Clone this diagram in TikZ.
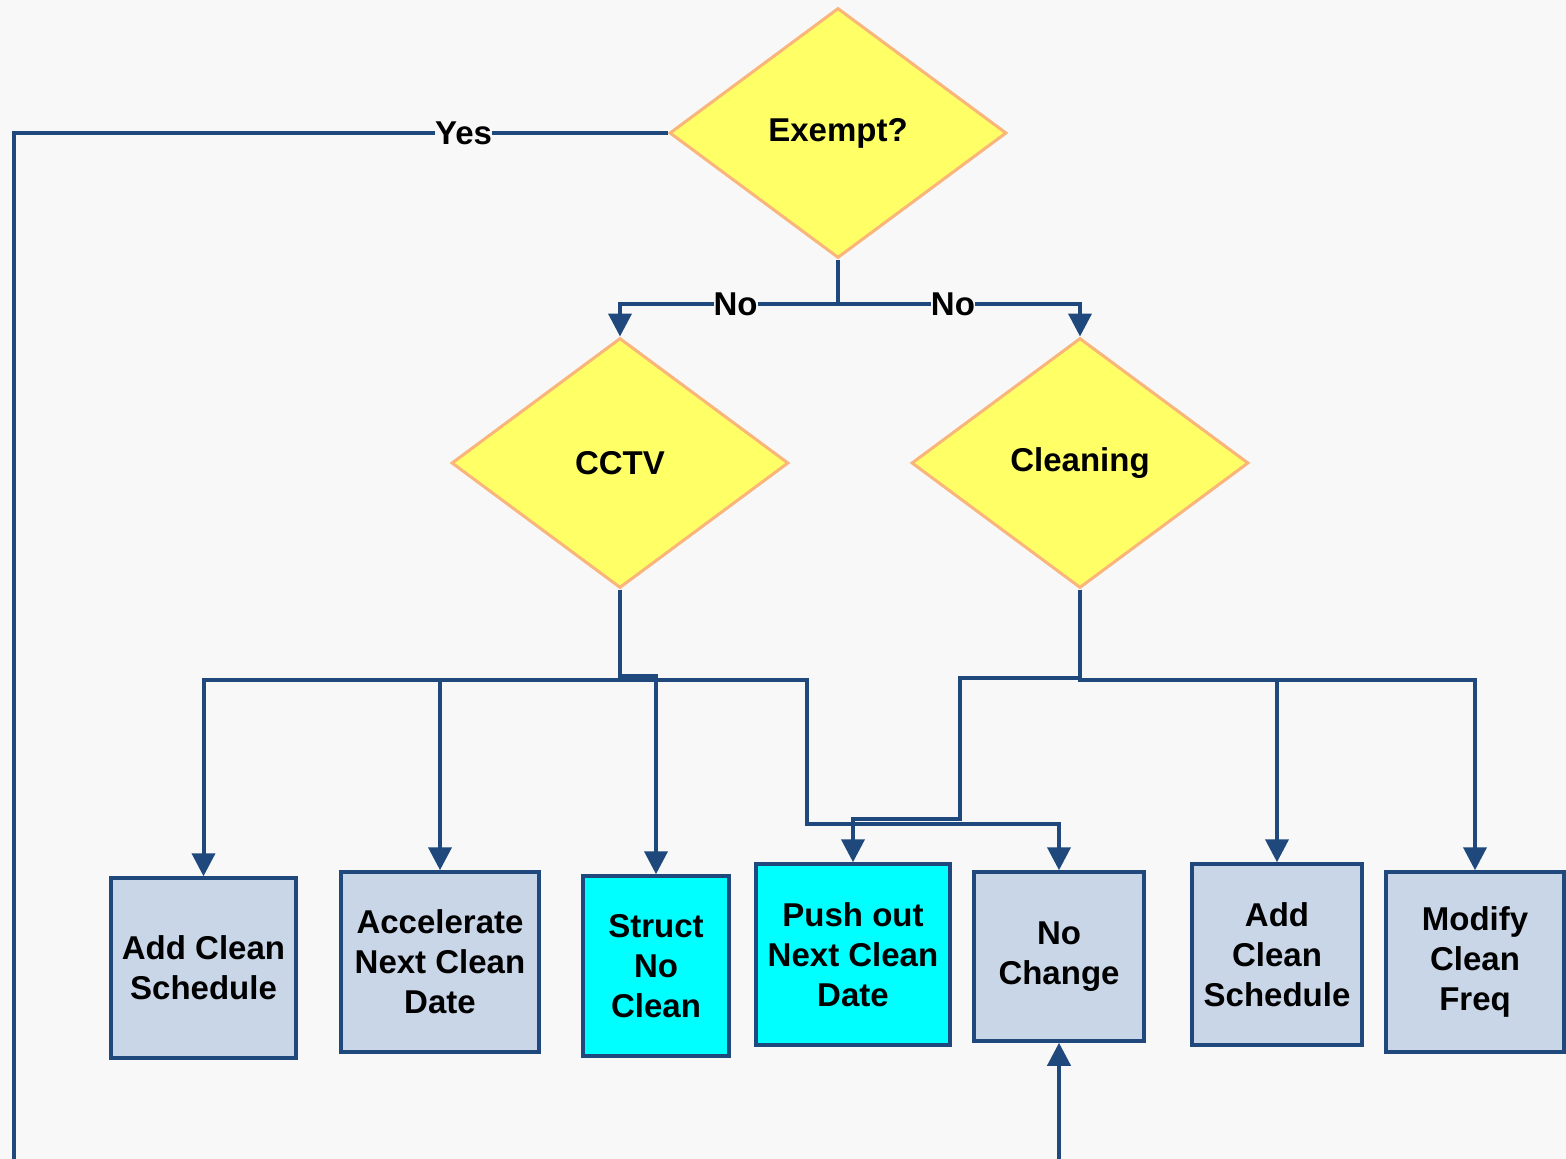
\documentclass[tikz,border=0pt]{standalone}
\usepackage{fontspec}
\setmainfont{Liberation Sans}
\usetikzlibrary{shapes.geometric,arrows.meta}

\definecolor{linec}{HTML}{1F497D}
\definecolor{boxfill}{HTML}{C9D6E7}
\definecolor{hotfill}{HTML}{00FFFF}
\definecolor{dfill}{HTML}{FFFF66}
\definecolor{dline}{HTML}{F9B57A}
\definecolor{bg}{HTML}{F8F8F8}

\tikzset{
  txt/.style={font=\fontsize{33}{40}\selectfont\bfseries, text=black, align=center},
  decision/.style={txt, diamond, draw=dline, line width=3pt, fill=dfill,
    minimum width=337pt, minimum height=250pt, inner sep=0pt},
  actbox/.style={txt, rectangle, draw=linec, line width=3.5pt, fill=boxfill, inner sep=0pt},
  hotbox/.style={actbox, fill=hotfill},
  conn/.style={draw=linec, line width=4pt},
  arr/.style={conn, -{Triangle[length=23pt,width=23pt]}},
  lbl/.style={txt, fill=bg, inner sep=0pt}
}

\begin{document}
\begin{tikzpicture}[x=1pt,y=-1pt]
  % page and background
  \useasboundingbox (0,0) rectangle (1566,1159);
  \fill[bg] (0,0) rectangle (1566,1159);

  % decisions
  \node[decision] (exempt) at (838,133) {Exempt?};
  \node[decision] (cctv) at (620,463) {CCTV};
  \node[decision] (cleaning) at (1080,463) {Cleaning};

  % outcomes
  \node[actbox, minimum width=185pt, minimum height=180pt] (acs1) at (203.5,968) {Add Clean\\Schedule};
  \node[actbox, minimum width=198pt, minimum height=180pt] (accel) at (440,962) {Accelerate\\Next Clean\\Date};
  \node[hotbox, minimum width=146pt, minimum height=180pt] (struct) at (656,966) {Struct\\No\\Clean};
  \node[hotbox, minimum width=194pt, minimum height=181pt] (push) at (853,954.5) {Push out\\Next Clean\\Date};
  \node[actbox, minimum width=170pt, minimum height=169pt] (nochg) at (1059,956.5) {No\\Change};
  \node[actbox, minimum width=170pt, minimum height=181pt] (acs2) at (1277,954.5) {Add\\Clean\\Schedule};
  \node[actbox, minimum width=178pt, minimum height=180pt] (modify) at (1475,962) {Modify\\Clean\\Freq};

  % junction points
  \coordinate (fork) at (838,304);
  \coordinate (cbus) at (620,680);
  \coordinate (kbus) at (1080,680);
  \coordinate (yesend) at (14,1170);
  \coordinate (feed) at (1059,1170);

  % exempt branch
  \draw[conn] (exempt.west) -- node[lbl,pos=0.3125]{Yes} (yesend |- exempt.west) -- (yesend);
  \draw[conn] (exempt.south) -- (fork);
  \draw[arr] (fork) -- node[lbl,pos=0.47]{No} (cctv.north |- fork) -- (cctv.north);
  \draw[arr] (fork) -- node[lbl,pos=0.475]{No} (cleaning.north |- fork) -- (cleaning.north);

  % CCTV outcomes
  \draw[arr] (cctv.south) -- (cbus) -| (acs1.north);
  \draw[arr] (cctv.south) -- (cbus) -| (accel.north);
  \draw[arr] (cctv.south) -- (620,676) -| (struct.north);
  \draw[arr] (cctv.south) -- (cbus) -- (807,680) -- (807,824) -| (nochg.north);

  % cleaning outcomes
  \draw[arr] (cleaning.south) -- (1080,678) -- (960,678) -- (960,819) -| (push.north);
  \draw[arr] (cleaning.south) -- (kbus) -| (acs2.north);
  \draw[arr] (cleaning.south) -- (kbus) -| (modify.north);

  % incoming from below
  \draw[arr] (feed) -- (nochg.south);
\end{tikzpicture}
\end{document}
